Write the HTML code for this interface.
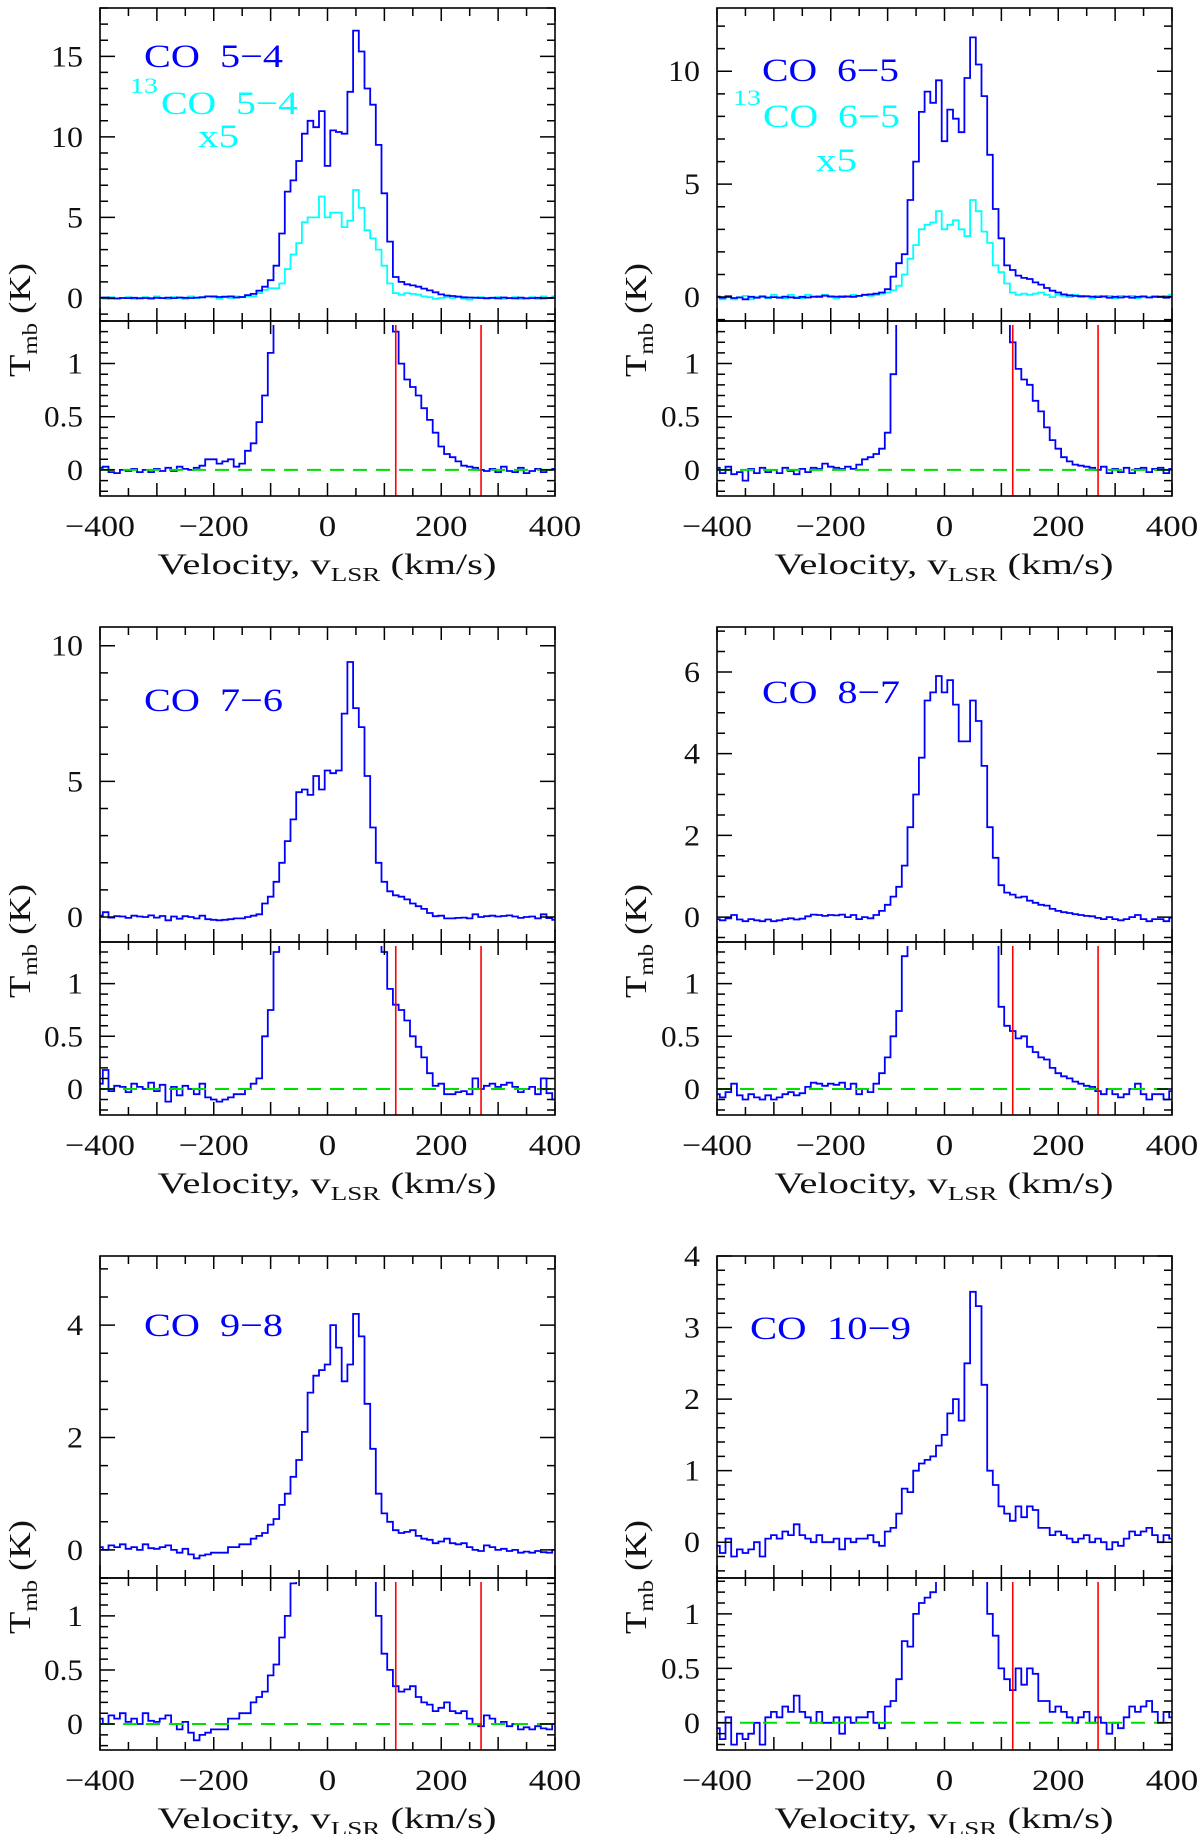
<!DOCTYPE html>
<html><head><meta charset="utf-8">
<style>
html,body{margin:0;padding:0;background:#fff;}
svg{display:block;}
text{font-family:"Liberation Serif","DejaVu Serif",serif;}
</style></head>
<body>
<svg id="fig" width="1200" height="1834" viewBox="0 0 1200 1834" xmlns="http://www.w3.org/2000/svg"></svg>
<script>
// velocity channels (km/s)
const velocities = [];
for (let v = -400; v <= 400; v += 10) velocities.push(v);

const co54 = [0.02,0.03,-0.02,-0.03,0,-0.01,0.01,-0.02,0,-0.02,0.01,-0.01,0.02,-0.01,0.03,0.01,0,0.02,0.04,0.1,0.1,0.06,0.08,0.1,0.03,0.06,0.18,0.25,0.45,0.7,1.1,2.0,4.0,6.6,7.3,8.5,10.2,11.0,10.6,11.6,8.2,10.4,10.3,10.2,12.8,16.6,15.3,13.0,12.0,9.5,6.5,3.5,1.3,1.0,0.85,0.78,0.7,0.58,0.47,0.35,0.22,0.15,0.12,0.08,0.04,0.03,0.02,0,-0.01,0.01,-0.02,0.03,-0.01,-0.02,0.02,-0.03,-0.01,0.01,-0.02,0,0.01];
const co13_54 = [0,-0.05,0.05,-0.05,0,0.05,-0.05,0,0.05,-0.05,0.1,0,-0.05,0.05,0,-0.05,0.1,0,0.05,0.1,0.05,-0.05,0.05,0,0.1,0.05,0.1,0.1,0.3,0.5,0.6,0.6,0.9,1.8,2.7,3.4,4.7,5.0,5.0,6.3,5.0,5.3,5.3,4.4,4.8,6.7,5.6,4.2,3.7,3.0,2.0,0.9,0.3,0.2,0.3,0.25,0.2,0.1,0.05,-0.05,0,0.05,0,0.1,-0.05,-0.1,0,0.05,-0.05,0,0.05,-0.05,0,0.05,-0.05,0,0.05,-0.05,0.1,0,0.1];
const co65 = [0.02,-0.03,0.03,-0.04,-0.02,-0.1,0.01,-0.03,0.02,-0.02,0,-0.03,0.02,-0.01,-0.04,0.01,-0.02,0.02,0.01,0.06,0.03,0.02,0.01,0.03,0.01,0.05,0.1,0.12,0.15,0.2,0.35,0.9,1.5,1.9,4.3,6.0,8.2,9.1,8.6,9.6,6.9,8.3,7.9,7.3,9.7,11.5,10.3,8.9,6.3,3.9,2.6,1.4,1.2,0.95,0.85,0.8,0.65,0.55,0.4,0.28,0.2,0.12,0.08,0.05,0.04,0.03,0.02,0,0.03,-0.03,0.01,-0.02,0.02,-0.03,0.01,0.02,-0.02,0.01,0.02,-0.03,0.01];
const co13_65 = [0,-0.1,0.05,-0.1,0,0.05,-0.1,0,0.05,-0.05,0.1,0,-0.05,0.1,0,-0.05,0.1,0,0.05,0.1,0,-0.05,0.05,0,0.1,0.05,0.1,0.05,0.1,0.15,0.2,0.3,0.5,1.0,1.7,2.3,3.0,3.2,3.3,3.8,3.0,3.2,3.4,3.0,2.7,4.3,3.8,2.9,2.4,1.4,1.1,0.6,0.2,0.1,0.15,0.1,0.15,0.2,0.1,0,0.1,0.05,0,0.1,0,0.05,-0.05,0.05,0,0.05,-0.05,0.05,0,0.05,-0.05,0.05,0,0.05,0,0.05,0.1];
const co76 = [0.05,0.18,-0.02,0.03,0.02,-0.03,0.05,0.02,0,0.06,-0.02,0.04,-0.12,0.02,-0.06,0.03,0,-0.05,0.05,-0.08,-0.1,-0.12,-0.1,-0.08,-0.05,-0.05,0.0,0.05,0.1,0.5,0.75,1.3,2.0,2.8,3.6,4.6,4.7,4.5,5.2,4.7,5.4,5.3,5.4,7.5,9.4,7.7,7.0,5.2,3.3,2.0,1.3,0.95,0.8,0.75,0.65,0.5,0.4,0.3,0.15,0.03,0.05,-0.05,-0.05,-0.03,-0.02,-0.05,0.1,0,0.03,0.05,0.02,0.04,0.06,0.02,-0.03,0,0.02,-0.05,0.1,-0.04,-0.1];
const co87 = [-0.05,-0.08,-0.03,0.05,-0.06,-0.1,-0.05,-0.08,-0.1,-0.06,-0.1,-0.08,-0.05,-0.03,-0.06,-0.04,0.02,0.06,0.05,0.03,0.05,0.04,0.06,0.0,0.05,-0.05,0.0,-0.03,0.05,0.15,0.3,0.5,0.74,1.26,2.2,3.0,3.9,5.3,5.5,5.9,5.5,5.8,5.2,4.3,4.3,5.3,4.8,3.7,2.2,1.45,0.78,0.6,0.55,0.48,0.5,0.4,0.35,0.3,0.28,0.2,0.15,0.12,0.1,0.07,0.05,0.03,0.02,-0.02,-0.05,0,-0.05,-0.08,-0.05,0,0.05,-0.05,-0.1,-0.05,-0.05,-0.1,-0.02];
const co98 = [0.05,0.0,0.08,0.05,0.1,0.02,0.05,0.0,0.1,0.03,0.02,0.05,0.08,0.0,-0.05,0.02,-0.08,-0.15,-0.1,-0.08,-0.05,-0.05,-0.05,0.05,0.05,0.1,0.1,0.2,0.25,0.3,0.45,0.55,0.8,1.0,1.3,1.6,2.1,2.8,3.1,3.2,3.3,4.0,3.6,3.0,3.3,4.2,3.8,2.6,1.8,1.0,0.65,0.5,0.35,0.3,0.32,0.35,0.25,0.2,0.18,0.12,0.15,0.2,0.12,0.1,0.12,0.05,0.0,-0.02,0.08,0.05,0.0,0.02,-0.02,0.0,-0.05,-0.03,-0.05,-0.02,-0.04,-0.05,0.0];
const co109 = [-0.05,-0.15,0.05,-0.2,-0.1,-0.15,-0.1,0.0,-0.2,0.05,0.1,0.05,0.15,0.1,0.25,0.1,0.05,0.0,0.1,0.0,0.0,0.05,-0.1,0.05,0.0,0.05,0.05,0.1,0.0,-0.05,0.15,0.2,0.4,0.75,0.7,1.0,1.1,1.15,1.2,1.35,1.5,1.8,2.0,1.7,2.5,3.5,3.3,2.2,1.0,0.8,0.5,0.4,0.3,0.5,0.35,0.5,0.45,0.2,0.2,0.1,0.15,0.1,0.05,0.0,0.05,0.1,0.0,0.05,0.0,-0.1,0.0,-0.05,0.05,0.15,0.1,0.15,0.2,0.1,0.0,0.1,0.05];

const xTickLabels = [-400,-200,0,200,400];
const lowerTickLabels = [0,0.5,1];
const redLineVels = [120,270];

const S='\u00a0\u00a0';
const panels = [
 {name:'co-5-4',x0:100,x1:555,top:8,mid:321,bot:496,up:[-1.43,18],maj:5,min:1,labels:[0,5,10,15],lo:[-0.245,1.40],series:[co54],iso:co13_54,title:'CO'+S+'5\u22124',tx:144,ty:67,tw:139,isoLbl:{sx:130,sy:93,cx:161,cy:114,cw:137,xx:198,xy:147,xw:41,t:'CO'+S+'5\u22124'}},
 {name:'co-6-5',x0:717,x1:1172,top:8,mid:321,bot:496,up:[-1.06,12.8],maj:5,min:1,labels:[0,5,10],lo:[-0.245,1.40],series:[co65],iso:co13_65,title:'CO'+S+'6\u22125',tx:762,ty:81,tw:137,isoLbl:{sx:733,sy:105,cx:763,cy:127,cw:137,xx:816,xy:171,xw:41,t:'CO'+S+'6\u22125'}},
 {name:'co-7-6',x0:100,x1:555,top:627,mid:942,bot:1115,up:[-0.92,10.69],maj:5,min:1,labels:[0,5,10],lo:[-0.247,1.395],series:[co76],title:'CO'+S+'7\u22126',tx:144,ty:711,tw:139},
 {name:'co-8-7',x0:717,x1:1172,top:627,mid:942,bot:1115,up:[-0.61,7.1],maj:2,min:0.5,labels:[0,2,4,6],lo:[-0.247,1.395],series:[co87],title:'CO'+S+'8\u22127',tx:762,ty:703,tw:138},
 {name:'co-9-8',x0:100,x1:555,top:1256,mid:1578,bot:1750,up:[-0.5,5.23],maj:2,min:0.5,labels:[0,2,4],lo:[-0.24,1.35],series:[co98],title:'CO'+S+'9\u22128',tx:144,ty:1336,tw:139},
 {name:'co-10-9',x0:717,x1:1172,top:1256,mid:1578,bot:1750,up:[-0.5,4.0],maj:1,min:0.2,labels:[0,1,2,3,4],lo:[-0.25,1.33],series:[co109],title:'CO'+S+'10\u22129',tx:750,ty:1339,tw:161}
];

const NS='http://www.w3.org/2000/svg';
const svg=document.getElementById('fig');
function mk(tag,attrs,parent){const e=document.createElementNS(NS,tag);for(const k in attrs)e.setAttribute(k,attrs[k]);(parent||svg).appendChild(e);return e;}

let clipId=0;
panels.forEach((p)=>{
  const g=mk('g',{});
  
  
  const xs=v=>p.x0+(v+400)/800*(p.x1-p.x0);
  const yU=t=>p.mid-(t-p.up[0])/(p.up[1]-p.up[0])*(p.mid-p.top);
  const yL=t=>p.bot-(t-p.lo[0])/(p.lo[1]-p.lo[0])*(p.bot-p.mid);

  const cu='c'+(clipId++), cl='c'+(clipId++);
  const d1=mk('clipPath',{id:cu},g); mk('rect',{x:p.x0,y:p.top,width:p.x1-p.x0,height:p.mid-p.top},d1);
  const d2=mk('clipPath',{id:cl},g); mk('rect',{x:p.x0,y:p.mid+4,width:p.x1-p.x0,height:p.bot-p.mid-4},d2);

  function stepPath(arr,ys){
    const hw=5; let d='';
    arr.forEach((t,i)=>{const v=velocities[i];const x1=xs(Math.max(-400,v-hw)),x2=xs(Math.min(400,v+hw)),y=ys(t);
      d+=(i===0?'M':'L')+x1.toFixed(1)+' '+y.toFixed(1)+'L'+x2.toFixed(1)+' '+y.toFixed(1);});
    return d;
  }
  if(p.iso){
    const pi=mk('path',{d:stepPath(p.iso,yU),fill:'none',stroke:'#00ffff','stroke-width':1.8,'clip-path':'url(#'+cu+')'},g);
    
    
  }
  p.series.forEach(s=>{
    const pu=mk('path',{d:stepPath(s,yU),fill:'none',stroke:'#0000ff','stroke-width':1.8,'clip-path':'url(#'+cu+')'},g);
    
    
    const pl=mk('path',{d:stepPath(s,yL),fill:'none',stroke:'#0000ff','stroke-width':1.8,'clip-path':'url(#'+cl+')'},g);
    
    
  });
  const gz=mk('line',{x1:p.x0,x2:p.x1,y1:yL(0),y2:yL(0),stroke:'#00e000','stroke-width':2,'stroke-dasharray':'14 9'},g);
  
  
  redLineVels.forEach(v=>{
    const r=mk('line',{x1:xs(v),x2:xs(v),y1:p.mid+4,y2:p.bot,stroke:'#ff0000','stroke-width':1.6},g);
    
    
  });
  [[p.top,p.mid],[p.mid,p.bot]].forEach(([a,b])=>{
    const fr=mk('rect',{x:p.x0,y:a,width:p.x1-p.x0,height:b-a,fill:'none',stroke:'#000','stroke-width':1.6},g);
    
    
  });
  let tk='';
  for(let v=-400;v<=400;v+=50){const x=xs(v);const L=(v%100===0)?13:8;
    [[p.top,1],[p.mid,-1],[p.mid,1],[p.bot,-1]].forEach(([y,s])=>{tk+='M'+x+' '+y+'v'+(s*L);});}
  for(let t=Math.ceil(p.up[0]/p.min)*p.min;t<=p.up[1]+1e-9;t+=p.min){
    const tt=Math.round(t*1000);const major=(tt%Math.round(p.maj*1000)===0);const L=major?15:8;const y=yU(t);
    tk+='M'+p.x0+' '+y+'h'+L+'M'+p.x1+' '+y+'h'+(-L);}
  for(let t=-0.2;t<=p.lo[1]+1e-9;t+=0.1){
    const tt=Math.round(t*10);const major=(tt%5===0);const L=major?15:8;const y=yL(t);
    tk+='M'+p.x0+' '+y+'h'+L+'M'+p.x1+' '+y+'h'+(-L);}
  const tp=mk('path',{d:tk,stroke:'#000','stroke-width':1.5,fill:'none'},g);
  
  

  function ylab(t,y){
    const s=String(t);
    const w=s.length*16-(s.indexOf('.')>=0?9:0);
    const e=mk('text',{x:p.x0-17,y:y+10,'font-size':30,'text-anchor':'end',fill:'#111',textLength:w,lengthAdjust:'spacingAndGlyphs'},g);
    e.textContent=s;
    
    
  }
  p.labels.forEach(t=>ylab(t,yU(t)));
  lowerTickLabels.forEach(t=>ylab(t,yL(t)));
  xTickLabels.forEach(v=>{
    const s=(v<0?'\u2212':'')+Math.abs(v);
    const e=mk('text',{x:xs(v),y:p.bot+40,'font-size':30,'text-anchor':'middle',fill:'#111',textLength:s.length*17.5,lengthAdjust:'spacingAndGlyphs'},g);
    e.textContent=s;
    
    
  });
  const xt=mk('text',{x:(p.x0+p.x1)/2-170,y:p.bot+78,'font-size':30,fill:'#111',textLength:339,lengthAdjust:'spacingAndGlyphs'},g);
  xt.innerHTML='Velocity, v<tspan font-size="20" dy="7">LSR</tspan><tspan dy="-7"> (km/s)</tspan>';
  
  
  const yx=(p.x0<300)?30:646;
  const yt=mk('text',{x:yx,y:p.mid+56,'font-size':31,fill:'#111',textLength:114,lengthAdjust:'spacingAndGlyphs',transform:'rotate(-90 '+yx+' '+(p.mid+56)+')'},g);
  yt.innerHTML='T<tspan font-size="21" dy="7">mb</tspan><tspan dy="-7"> (K)</tspan>';
  
  
  const tl=mk('text',{x:p.tx,y:p.ty,'font-size':33,fill:'#0000ff',textLength:p.tw,lengthAdjust:'spacingAndGlyphs'},g);
  tl.textContent=p.title;
  
  
  if(p.isoLbl){const L=p.isoLbl;
    const s=mk('text',{x:L.sx,y:L.sy,'font-size':22,fill:'#00ffff',textLength:28,lengthAdjust:'spacingAndGlyphs'},g); s.textContent='13';
    
    
    const c=mk('text',{x:L.cx,y:L.cy,'font-size':33,fill:'#00ffff',textLength:L.cw,lengthAdjust:'spacingAndGlyphs'},g); c.textContent=L.t;
    
    
    const x5=mk('text',{x:L.xx,y:L.xy,'font-size':33,fill:'#00ffff',textLength:L.xw,lengthAdjust:'spacingAndGlyphs'},g); x5.textContent='x5';
    
    
  }
});
</script>
</body></html>
